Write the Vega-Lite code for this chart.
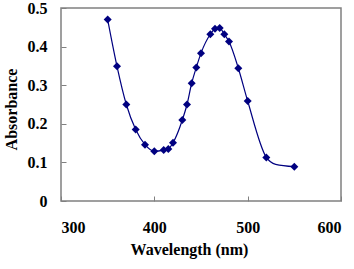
{
  "$schema": "https://vega.github.io/schema/vega-lite/v6.json",
  "width": 280,
  "height": 193,
  "autosize": "none",
  "padding": {"left": 61, "top": 8, "right": 13, "bottom": 68},
  "config": {
    "view": {"stroke": "#808080", "strokeWidth": 1.5},
    "font": "Liberation Serif"
  },
  "data": {
    "values": [
      {"wl": 350, "abs": 0.470, "marker": true},
      {"wl": 360, "abs": 0.349, "marker": true},
      {"wl": 370, "abs": 0.250, "marker": true},
      {"wl": 380, "abs": 0.185, "marker": true},
      {"wl": 390, "abs": 0.146, "marker": true},
      {"wl": 400, "abs": 0.129, "marker": true},
      {"wl": 410, "abs": 0.132, "marker": true},
      {"wl": 415, "abs": 0.135, "marker": true},
      {"wl": 420, "abs": 0.151, "marker": true},
      {"wl": 430, "abs": 0.210, "marker": true},
      {"wl": 435, "abs": 0.250, "marker": true},
      {"wl": 440, "abs": 0.305, "marker": true},
      {"wl": 445, "abs": 0.346, "marker": true},
      {"wl": 450, "abs": 0.383, "marker": true},
      {"wl": 460, "abs": 0.432, "marker": true},
      {"wl": 465, "abs": 0.446, "marker": true},
      {"wl": 470, "abs": 0.448, "marker": true},
      {"wl": 475, "abs": 0.432, "marker": true},
      {"wl": 480, "abs": 0.413, "marker": true},
      {"wl": 490, "abs": 0.344, "marker": true},
      {"wl": 500, "abs": 0.259, "marker": true},
      {"wl": 520, "abs": 0.113, "marker": true},
      {"wl": 530, "abs": 0.095, "marker": false},
      {"wl": 550, "abs": 0.089, "marker": true}
    ]
  },
  "encoding": {
    "x": {
      "field": "wl",
      "type": "quantitative",
      "scale": {"domain": [300, 600], "nice": false},
      "axis": {
        "values": [300, 400, 500, 600],
        "format": "d",
        "title": "Wavelength (nm)",
        "grid": false,
        "domain": false,
        "tickSize": -5,
        "tickColor": "#808080",
        "labelFontSize": 16,
        "labelFontWeight": "bold",
        "labelColor": "black",
        "labelPadding": 23,
        "titleFontSize": 16,
        "titleFontWeight": "bold",
        "titleColor": "black",
        "titlePadding": 6,
        "titleX": 128
      }
    },
    "y": {
      "field": "abs",
      "type": "quantitative",
      "scale": {"domain": [0, 0.5], "nice": false},
      "axis": {
        "values": [0, 0.1, 0.2, 0.3, 0.4, 0.5],
        "labelExpr": "datum.value == 0 ? '0' : format(datum.value, '.1f')",
        "title": "Absorbance",
        "grid": false,
        "domain": false,
        "tickSize": -5,
        "tickColor": "#808080",
        "labelFontSize": 16,
        "labelFontWeight": "bold",
        "labelColor": "black",
        "labelPadding": 19,
        "titleFontSize": 16,
        "titleFontWeight": "bold",
        "titleColor": "black",
        "titlePadding": 8,
        "titleY": 101
      }
    }
  },
  "layer": [
    {
      "mark": {"type": "line", "color": "#000080", "strokeWidth": 1.2, "interpolate": "monotone"}
    },
    {
      "transform": [{"filter": "datum.marker"}],
      "mark": {"type": "point", "shape": "diamond", "filled": true, "size": 64, "color": "#000080", "opacity": 1}
    }
  ]
}
